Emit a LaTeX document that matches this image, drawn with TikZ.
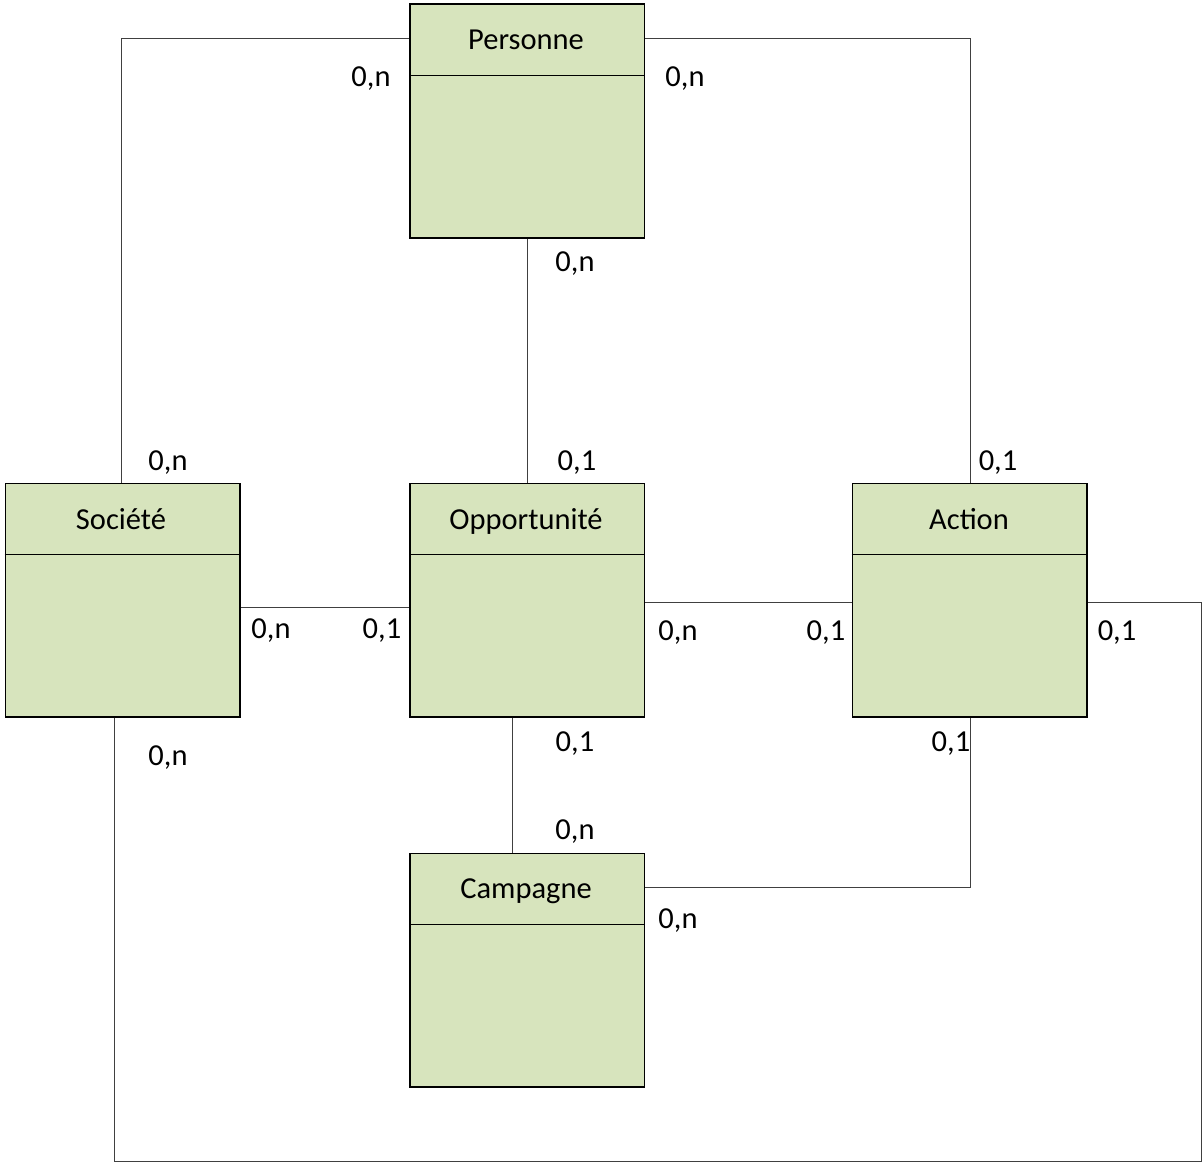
\documentclass[tikz,border=0pt]{standalone}
\usepackage{fontspec}
\setmainfont{Carlito}
\definecolor{entfill}{HTML}{D7E4BD}
\definecolor{linec}{HTML}{404040}
\begin{document}
\begin{tikzpicture}[x=1pt,y=-1pt,
  entity/.style={draw=black,line width=1.6pt,fill=entfill,minimum width=234.5pt,minimum height=233.5pt,inner sep=0pt,anchor=north west},
  title/.style={font=\fontsize{30.5}{36}\selectfont,anchor=base,inner sep=0pt},
  card/.style={font=\fontsize{30.5}{36}\selectfont,anchor=base,inner sep=0pt},
  conn/.style={draw=linec,line width=1pt}]
\useasboundingbox[fill=white] (0,0) rectangle (1204,1164);
% entities
\node[entity] (pers) at (409,3.5) {};
\node[entity] (soc) at (4.5,482.5) {};
\node[entity] (opp) at (409,482.5) {};
\node[entity] (act) at (851.5,482.5) {};
\node[entity] (camp) at (409,852.5) {};
% header separators
\foreach \n in {pers,soc,opp,act,camp}{
  \draw[line width=1.6pt] ([yshift=-72pt]\n.north west) -- ([yshift=-72pt]\n.north east);
}
\node[title] (tpers) at (526,50) {Personne};
\node[title] (tsoc) at (121,529) {Société};
\node[title] (topp) at (526,529) {Opportunité};
\node[title] (tact) at (969,529) {Action};
\node[title] (tcamp) at (526,898) {Campagne};
% connectors
\draw[conn] ([yshift=-35.5pt]pers.north west) -| ([xshift=116.5pt]soc.north west);
\draw[conn] ([yshift=-35.5pt]pers.north east) -| ([xshift=118.5pt]act.north west);
\draw[conn] (pers.south) -- (opp.north);
\draw[conn] ([yshift=-124.5pt]soc.north east) -- ([yshift=-124.5pt]opp.north west);
\draw[conn] ([yshift=-119.5pt]opp.north east) -- ([yshift=-119.5pt]act.north west);
\draw[conn] ([xshift=103pt]opp.south west) -- ([xshift=103pt]camp.north west);
\draw[conn] ([yshift=-34.5pt]camp.north east) -| ([xshift=118.5pt]act.south west);
\coordinate (c2) at (1201,1161);
\draw[conn] ([xshift=109.5pt]soc.south west) |- (c2) |- ([yshift=-119.5pt]act.north east);
% cardinalities
\node[card] (k1) at (371,86) {0,n};
\node[card] (k2) at (685,86) {0,n};
\node[card] (k3) at (575,271) {0,n};
\node[card] (k4) at (168,470) {0,n};
\node[card] (k5) at (577,470) {0,1};
\node[card] (k6) at (998,470) {0,1};
\node[card] (k7) at (271,638) {0,n};
\node[card] (k8) at (382,638) {0,1};
\node[card] (k9) at (678,640) {0,n};
\node[card] (k10) at (826,640) {0,1};
\node[card] (k11) at (1117,640) {0,1};
\node[card] (k12) at (168,765) {0,n};
\node[card] (k13) at (575,751) {0,1};
\node[card] (k14) at (951,751) {0,1};
\node[card] (k15) at (575,839) {0,n};
\node[card] (k16) at (678,928) {0,n};
\end{tikzpicture}
\end{document}
